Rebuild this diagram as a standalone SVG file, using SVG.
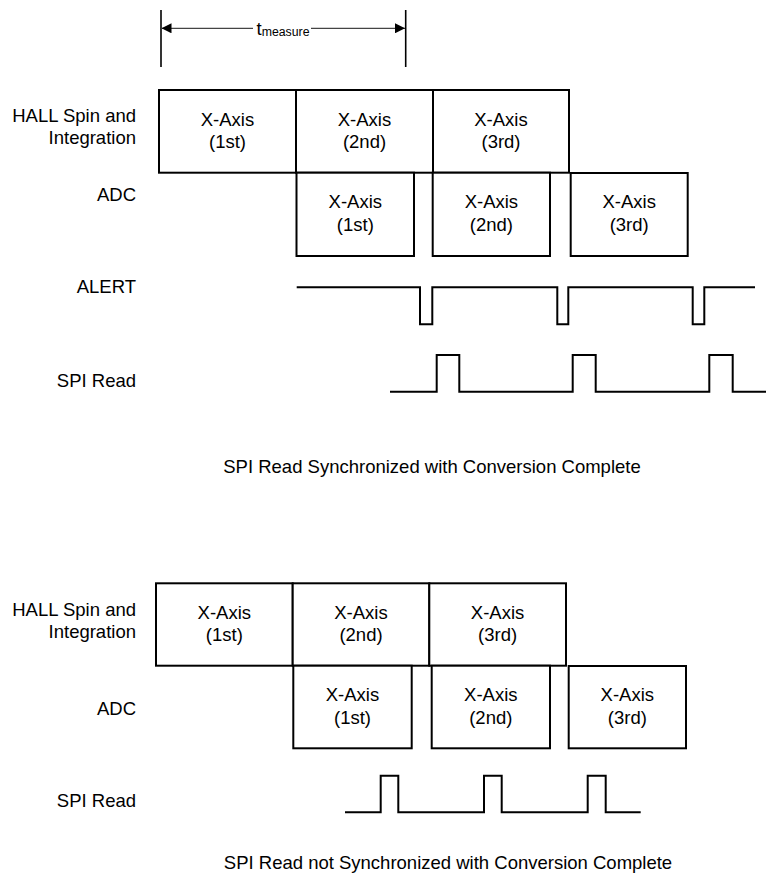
<svg xmlns="http://www.w3.org/2000/svg" width="768" height="874" viewBox="0 0 768 874">
<style>
  .box{fill:#fff;stroke:#000;stroke-width:2}
  .wave{fill:none;stroke:#000;stroke-width:2;stroke-linejoin:miter}
  .t{font-family:"Liberation Sans",Arial,sans-serif;font-size:18.5px;fill:#000}
  .c{text-anchor:middle}
  .r{text-anchor:end}
  .dim{stroke:#444;stroke-width:1.2;fill:none}
  .tick{stroke:#000;stroke-width:1.6}
</style>
<defs>
  <marker id="ah" viewBox="0 0 10 10" refX="10" refY="5" markerWidth="10" markerHeight="10" markerUnits="userSpaceOnUse" orient="auto">
    <path d="M0,0 L10,5 L0,10 z" fill="#000"/>
  </marker>
</defs>
<rect width="768" height="874" fill="#fff"/>

<!-- measurement -->
<g id="connectors">
  <line class="tick" x1="161" y1="10" x2="161" y2="67"/>
  <line class="tick" x1="405.7" y1="10" x2="405.7" y2="67"/>
  <line class="dim" x1="253" y1="28.3" x2="161.5" y2="28.3" marker-end="url(#ah)"/>
  <line class="dim" x1="311" y1="28.3" x2="405" y2="28.3" marker-end="url(#ah)"/>
</g>
<g id="tmeasure">
  <text class="t" x="256.5" y="35">t<tspan font-size="12.3px" dy="1">measure</tspan></text>
</g>

<!-- Top diagram labels -->
<g id="label-hall-top">
  <text class="t r" x="136" y="121.7">HALL Spin and</text>
  <text class="t r" x="136" y="143.5">Integration</text>
</g>
<g id="label-adc-top"><text class="t r" x="136" y="201">ADC</text></g>
<g id="label-alert-top"><text class="t r" x="136" y="293">ALERT</text></g>
<g id="label-spi-top"><text class="t r" x="136" y="387">SPI Read</text></g>

<!-- Top HALL boxes -->
<g id="hall-top-1"><rect class="box" x="159" y="90" width="137" height="82.7"/>
  <text class="t c" x="227.5" y="126">X-Axis</text><text class="t c" x="227.5" y="148">(1st)</text></g>
<g id="hall-top-2"><rect class="box" x="296" y="90" width="137" height="82.7"/>
  <text class="t c" x="364.5" y="126">X-Axis</text><text class="t c" x="364.5" y="148">(2nd)</text></g>
<g id="hall-top-3"><rect class="box" x="433" y="90" width="136" height="82.7"/>
  <text class="t c" x="501" y="126">X-Axis</text><text class="t c" x="501" y="148">(3rd)</text></g>

<!-- Top ADC boxes -->
<g id="adc-top-1"><rect class="box" x="296.5" y="172.7" width="117.5" height="83.3"/>
  <text class="t c" x="355.3" y="208">X-Axis</text><text class="t c" x="355.3" y="231">(1st)</text></g>
<g id="adc-top-2"><rect class="box" x="432.7" y="172.7" width="117.3" height="83.3"/>
  <text class="t c" x="491.4" y="208">X-Axis</text><text class="t c" x="491.4" y="231">(2nd)</text></g>
<g id="adc-top-3"><rect class="box" x="570.7" y="173" width="117" height="83"/>
  <text class="t c" x="629.2" y="208">X-Axis</text><text class="t c" x="629.2" y="231">(3rd)</text></g>

<!-- Top waveforms -->
<g id="alert-wave">
  <path class="wave" d="M296.7,287.3 H420 V324.3 H432.3 V287.3 H557.3 V324.3 H568.3 V287.3 H692.7 V324.3 H704.3 V287.3 H755"/>
</g>
<g id="spi-wave-top">
  <path class="wave" d="M390,391.7 H436.7 V355 H459.3 V391.7 H572.7 V355 H595.7 V391.7 H709.3 V355 H732.7 V391.7 H766"/>
</g>

<g id="caption-top"><text class="t c" x="432" y="473">SPI Read Synchronized with Conversion Complete</text></g>

<!-- Bottom diagram labels -->
<g id="label-hall-bottom">
  <text class="t r" x="136" y="616">HALL Spin and</text>
  <text class="t r" x="136" y="638">Integration</text>
</g>
<g id="label-adc-bottom"><text class="t r" x="136" y="715">ADC</text></g>
<g id="label-spi-bottom"><text class="t r" x="136" y="807">SPI Read</text></g>

<!-- Bottom HALL boxes -->
<g id="hall-bot-1"><rect class="box" x="156" y="583.3" width="136.7" height="82.4"/>
  <text class="t c" x="224.3" y="619">X-Axis</text><text class="t c" x="224.3" y="641">(1st)</text></g>
<g id="hall-bot-2"><rect class="box" x="292.7" y="583.3" width="136.6" height="82.4"/>
  <text class="t c" x="361" y="619">X-Axis</text><text class="t c" x="361" y="641">(2nd)</text></g>
<g id="hall-bot-3"><rect class="box" x="429.3" y="583.3" width="136.7" height="82.4"/>
  <text class="t c" x="497.6" y="619">X-Axis</text><text class="t c" x="497.6" y="641">(3rd)</text></g>

<!-- Bottom ADC boxes -->
<g id="adc-bot-1"><rect class="box" x="293.3" y="665.7" width="118.4" height="82.6"/>
  <text class="t c" x="352.5" y="701">X-Axis</text><text class="t c" x="352.5" y="724">(1st)</text></g>
<g id="adc-bot-2"><rect class="box" x="431.7" y="665.7" width="118.3" height="82.6"/>
  <text class="t c" x="490.8" y="701">X-Axis</text><text class="t c" x="490.8" y="724">(2nd)</text></g>
<g id="adc-bot-3"><rect class="box" x="568.7" y="666" width="117.3" height="82.3"/>
  <text class="t c" x="627.3" y="701">X-Axis</text><text class="t c" x="627.3" y="724">(3rd)</text></g>

<g id="spi-wave-bottom">
  <path class="wave" d="M345,812.3 H380.7 V775.7 H398.3 V812.3 H484 V775.7 H501.7 V812.3 H587.7 V775.7 H605.7 V812.3 H640.7"/>
</g>

<g id="caption-bottom"><text class="t c" x="448" y="869">SPI Read not Synchronized with Conversion Complete</text></g>
</svg>
